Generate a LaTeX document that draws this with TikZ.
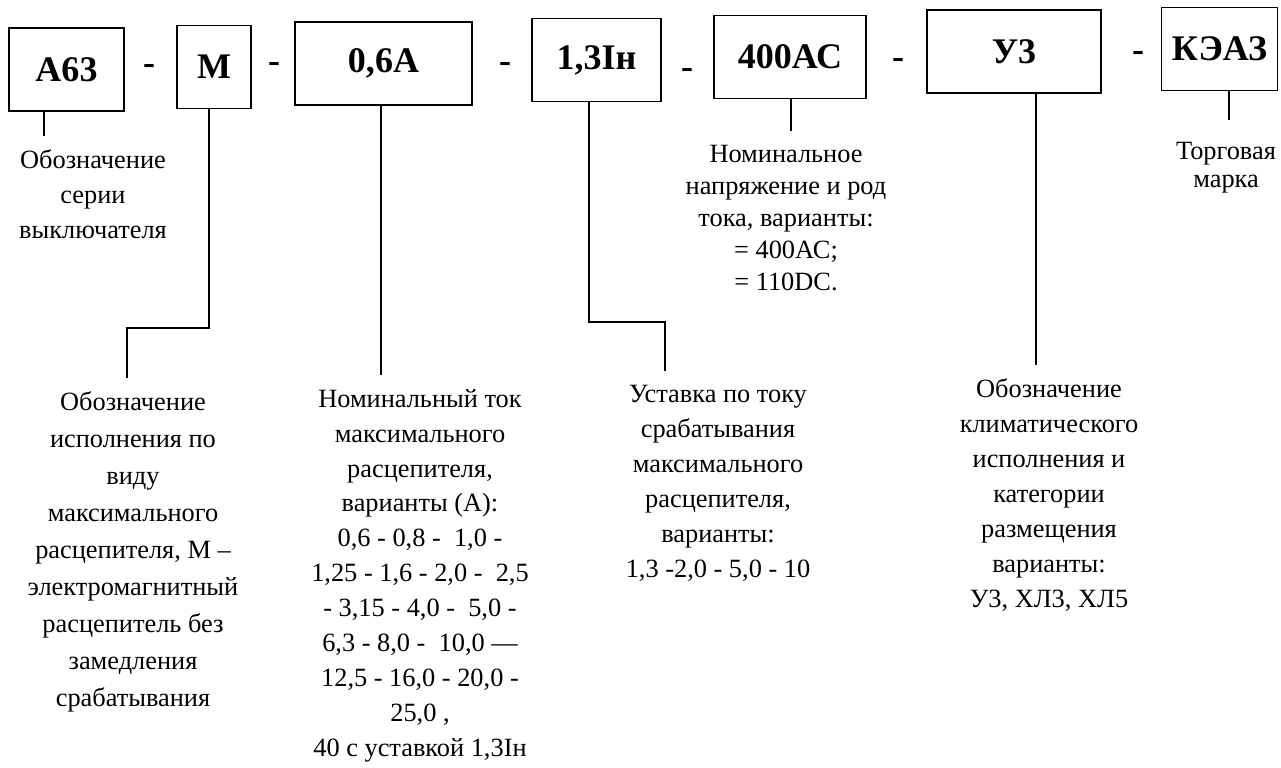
\documentclass[tikz,border=0pt]{standalone}
\usepackage{fontspec}
\setmainfont{Liberation Serif}

\tikzset{
  box/.style  = {draw, line width=0.8pt, inner sep=0pt, align=center,
                 minimum height=16.6mm, font=\fontsize{20.5}{24}\selectfont\bfseries},
  sep/.style  = {inner sep=0pt, font=\fontsize{20.5}{24}\selectfont\bfseries},
  desc/.style = {anchor=north, align=center, inner sep=0pt, outer ysep=2.8mm,
                 font=\fontsize{15}{19.9}\selectfont},
  link/.style = {line width=0.8pt},
}

\begin{document}
\begin{tikzpicture}[x=0.2mm, y=-0.2mm]
\useasboundingbox (0,0) rectangle (1281,767);

%% units are pixels of the 1281x767 sheet, y downwards
%% x: 66=A63, 214=M, 384=0,6A, 597=1,3In, 790=400AC, 1014=U3, 1220=KEAZ

%% --- fields of the designation ----------------------------------
\node[box, minimum width=23mm]   (ser)  at (66.5,69.5)  {А63};
\node[sep] (d1) at (149,69) {-};
\node[box, minimum width=14.8mm] (isp)  at (214,67)     {М};
\node[sep] (d2) at (274,67) {-};
\node[box, minimum width=35.4mm] (tok)  at (383.5,63.5) {0,6А};
\node[sep] (d3) at (505,67) {-};
\node[box, minimum width=25.8mm] (ust)  at (596.5,60)   {1,3Iн};
\node[sep] (d4) at (687,73) {-};
\node[box, minimum width=30.4mm] (nap)  at (790,57)     {400АС};
\node[sep] (d5) at (898,63) {-};
\node[box, minimum width=34.8mm] (klim) at (1014,51.5)  {У3};
\node[sep] (d6) at (1138,56) {-};
\node[box, minimum width=23.2mm] (mark) at (1219.5,49)  {КЭАЗ};

%% --- series --------------------------------------------------------
\coordinate (serE) at (44,136);
\node[desc] (serT) at (93,136) {Обозначение\\серии\\выключателя};
\draw[link] (ser.south -| serE) -- (serT.north -| serE);

%% --- release type (stepped leader) ------------------------------
\coordinate (ispA) at (209,328);
\coordinate (ispB) at (127,328);
\node[desc, font=\fontsize{15}{21}\selectfont] (ispT) at (133,378)
  {Обозначение\\исполнения по\\виду\\максимального\\расцепителя, М~–\\
   электромагнитный\\расцепитель без\\замедления\\срабатывания};
\draw[link] (isp.south -| ispA) -- (ispA) -- (ispB) -- (ispT.north -| ispB);

%% --- rated current ------------------------------------------------
\coordinate (tokE) at (381,375);
\node[desc] (tokT) at (420,375)
  {Номинальный ток\\максимального\\расцепителя,\\варианты (А):\\
   0,6 - 0,8 -~~1,0 -\\1,25 - 1,6 - 2,0 -~~2,5\\- 3,15 - 4,0 -~~5,0 -\\
   6,3 - 8,0 -~~10,0 —\\12,5 - 16,0 - 20,0 -\\25,0 ,\\40 с уставкой 1,3Iн};
\draw[link] (tok.south -| tokE) -- (tokT.north -| tokE);

%% --- current setting (stepped leader) ---------------------------
\coordinate (ustA) at (589,322);
\coordinate (ustB) at (665,322);
\node[desc] (ustT) at (718,371)
  {Уставка по току\\срабатывания\\максимального\\расцепителя,\\варианты:\\
   1,3 -2,0 - 5,0 - 10};
\draw[link] (ust.south -| ustA) -- (ustA) -- (ustB) -- (ustT.north -| ustB);

%% --- voltage --------------------------------------------------------
\coordinate (napE) at (791,131);
\node[desc, font=\fontsize{15}{18.2}\selectfont] (napT) at (786,131)
  {Номинальное\\напряжение и род\\тока, варианты:\\= 400АС;\\= 110DC.};
\draw[link] (nap.south -| napE) -- (napT.north -| napE);

%% --- climate --------------------------------------------------------
\coordinate (klimE) at (1036,365);
\node[desc] (klimT) at (1049,365)
  {Обозначение\\климатического\\исполнения и\\категории\\размещения\\
   варианты:\\У3, ХЛ3, ХЛ5};
\draw[link] (klim.south -| klimE) -- (klimT.north -| klimE);

%% --- trade mark -----------------------------------------------------
\coordinate (markE) at (1229,120);
\node[desc, outer ysep=4.4mm, font=\fontsize{15}{16}\selectfont] (markT) at (1226,120)
  {Торговая\\марка};
\draw[link] (mark.south -| markE) -- (markT.north -| markE);

\end{tikzpicture}
\end{document}
